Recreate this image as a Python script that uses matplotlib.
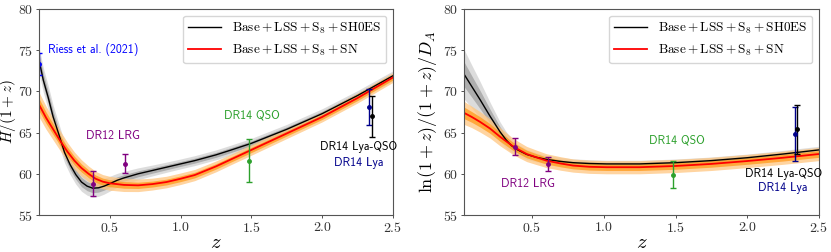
import matplotlib
matplotlib.use("Agg")
import matplotlib.pyplot as plt
import numpy as np

plt.rcParams['font.family'] = 'serif'
plt.rcParams['font.serif'] = ['cmr10']
plt.rcParams['mathtext.fontset'] = 'cm'
plt.rcParams['axes.formatter.use_mathtext'] = True
plt.rcParams['axes.unicode_minus'] = False

# ---- left panel: H/(1+z) ----
zL_sh = [0.0, 0.03, 0.066, 0.1, 0.14, 0.18, 0.22, 0.26, 0.3, 0.34, 0.38, 0.42, 0.46, 0.5, 0.55,
         0.6, 0.7, 0.8, 0.9, 1.0, 1.1, 1.25, 1.35, 1.5, 1.75, 2.0, 2.25, 2.5]
HL_sh = [73.8, 71.4, 69.2, 66.9, 64.8, 62.6, 61.1, 59.9, 59.0, 58.5, 58.25, 58.3, 58.5, 58.8, 59.2,
         59.5, 60.0, 60.4, 60.8, 61.2, 61.6, 62.3, 62.85, 63.7, 65.4, 67.3, 69.5, 71.9]
sL_sh = [0.8, 0.75, 0.72, 0.7, 0.65, 0.62, 0.6, 0.58, 0.56, 0.55, 0.55, 0.52, 0.48, 0.45, 0.42,
         0.4, 0.36, 0.33, 0.31, 0.3, 0.3, 0.3, 0.3, 0.3, 0.3, 0.3, 0.3, 0.3]

zL_sn = [0.0, 0.05, 0.1, 0.15, 0.2, 0.25, 0.3, 0.35, 0.4, 0.45, 0.5, 0.6, 0.7, 0.8, 0.9,
         1.0, 1.1, 1.25, 1.35, 1.5, 1.75, 2.0, 2.25, 2.5]
HL_sn = [68.4, 66.8, 65.4, 64.0, 62.7, 61.6, 60.7, 60.0, 59.4, 59.05, 58.85, 58.65, 58.6, 58.75, 59.0,
         59.4, 59.85, 60.9, 61.7, 62.9, 64.9, 66.9, 69.2, 71.7]
sL_sn = [0.75, 0.7, 0.65, 0.6, 0.56, 0.52, 0.5, 0.47, 0.45, 0.43, 0.42, 0.4, 0.38, 0.36, 0.35,
         0.35, 0.34, 0.33, 0.32, 0.32, 0.31, 0.3, 0.3, 0.3]

# ---- right panel: ln(1+z)/(1+z)/D_A ----
zR_sh = [0.026, 0.08, 0.138, 0.207, 0.277, 0.32, 0.358, 0.4, 0.463, 0.53, 0.6, 0.7, 0.786, 0.9,
         1.02, 1.25, 1.5, 1.75, 2.0, 2.25, 2.5]
DR_sh = [72.1, 70.6, 69.0, 67.0, 65.1, 64.1, 63.4, 62.9, 62.35, 62.0, 61.75, 61.5, 61.35, 61.25,
         61.2, 61.2, 61.35, 61.6, 61.95, 62.4, 62.9]
sR_sh = [1.5, 1.3, 1.1, 0.85, 0.6, 0.5, 0.4, 0.35, 0.3, 0.27, 0.25, 0.24, 0.23, 0.23,
         0.22, 0.22, 0.22, 0.22, 0.22, 0.22, 0.22]

zR_sn = [0.026, 0.08, 0.138, 0.207, 0.277, 0.358, 0.41, 0.463, 0.53, 0.6, 0.7, 0.786, 0.9,
         1.02, 1.25, 1.5, 1.75, 2.0, 2.25, 2.5]
DR_sn = [67.4, 66.9, 66.3, 65.5, 64.5, 63.45, 62.9, 62.4, 62.0, 61.6, 61.25, 61.0, 60.85,
         60.8, 60.8, 60.95, 61.2, 61.55, 61.95, 62.4]
sR_sn = [0.7, 0.65, 0.62, 0.58, 0.55, 0.5, 0.48, 0.46, 0.44, 0.42, 0.41, 0.4, 0.4,
         0.4, 0.4, 0.4, 0.4, 0.4, 0.4, 0.4]

# ---- data points ----
riess_z, riess_H, riess_e = 0.0, 73.3, 1.35
lrg_z = [0.38, 0.61]
lrg_H, lrg_He = [58.8, 61.2], [1.5, 1.15]
lrg_D, lrg_De = [63.3, 61.2], [1.0, 0.85]
qso_z = 1.48
qso_H, qso_He = 61.6, 2.6
qso_D, qso_De = 59.9, 1.6
lya_z = 2.33
lya_H, lya_He = 68.1, 2.15
lya_D, lya_De = 64.8, 3.3
lyaq_z = 2.35
lyaq_H, lyaq_He = 67.0, 2.5
lyaq_D, lyaq_De = 65.4, 3.0

lab_sh = r'$\mathrm{Base}+\mathrm{LSS}+\mathrm{S}_8+\mathrm{SH0ES}$'
lab_sn = r'$\mathrm{Base}+\mathrm{LSS}+\mathrm{S}_8+\mathrm{SN}$'

W, H = 831, 252
fig = plt.figure(figsize=(W / 100, H / 100), dpi=100)
axL = fig.add_axes([39 / W, 1 - 215 / H, 354 / W, 206 / H])
axR = fig.add_axes([464 / W, 1 - 215 / H, 355 / W, 206 / H])


def bands(ax, z, y, s, c1, c2, a=1.0):
    z, y, s = np.array(z), np.array(y), np.array(s)
    ax.fill_between(z, y - 2 * s, y + 2 * s, color=c2, alpha=a, lw=0)
    ax.fill_between(z, y - s, y + s, color=c1, alpha=a, lw=0)


ann = dict(family='cmss10', fontsize=8.5, ha='center', va='center')
eb = dict(fmt='o', ms=2.5, capsize=2.5, elinewidth=1.0, capthick=1.0)

# left
bands(axL, zL_sh, HL_sh, sL_sh, '#a9a9a9', '#d9d9d9', 0.9)
bands(axL, zL_sn, HL_sn, sL_sn, '#ff9a1a', '#ffc680', 0.75)
axL.plot(zL_sh, HL_sh, color='k', lw=1.0, label=lab_sh)
axL.plot(zL_sn, HL_sn, color='#ff0000', lw=1.3, label=lab_sn)
axL.errorbar(riess_z, riess_H, yerr=riess_e, color='blue', **eb)
axL.errorbar(lrg_z, lrg_H, yerr=lrg_He, color='purple', **eb)
axL.errorbar(qso_z, qso_H, yerr=qso_He, color='#2ca02c', **eb)
axL.errorbar(lya_z, lya_H, yerr=lya_He, color='darkblue', **eb)
axL.errorbar(lyaq_z, lyaq_H, yerr=lyaq_He, color='k', **eb)
axL.text(0.065, 75.1, 'Riess et al. (2021)', color='blue', **dict(ann, ha='left'))
axL.text(0.52, 64.6, 'DR12 LRG', color='purple', **ann)
axL.text(1.50, 67.1, 'DR14 QSO', color='#2ca02c', **ann)
axL.text(2.26, 63.2, 'DR14 Lya-QSO', color='k', **ann)
axL.text(2.26, 61.3, 'DR14 Lya', color='darkblue', **ann)
axL.set_xlim(0, 2.5)
axL.set_ylabel(r'$H/(1+z)$', fontsize=11)
axL.yaxis.set_label_coords(-0.058, 0.5)

# right
bands(axR, zR_sh, DR_sh, sR_sh, '#a9a9a9', '#d9d9d9', 0.9)
bands(axR, zR_sn, DR_sn, sR_sn, '#ff9a1a', '#ffc680', 0.75)
axR.plot(zR_sh, DR_sh, color='k', lw=1.0, label=lab_sh)
axR.plot(zR_sn, DR_sn, color='#ff0000', lw=1.3, label=lab_sn)
axR.errorbar(lrg_z, lrg_D, yerr=lrg_De, color='purple', **eb)
axR.errorbar(qso_z, qso_D, yerr=qso_De, color='#2ca02c', **eb)
axR.errorbar(lya_z, lya_D, yerr=lya_De, color='darkblue', **eb)
axR.errorbar(lyaq_z, lyaq_D, yerr=lyaq_De, color='k', **eb)
axR.text(0.47, 58.8, 'DR12 LRG', color='purple', **ann)
axR.text(1.51, 64.05, 'DR14 QSO', color='#2ca02c', **ann)
axR.text(2.25, 60.0, 'DR14 Lya-QSO', color='k', **ann)
axR.text(2.25, 58.25, 'DR14 Lya', color='darkblue', **ann)
axR.set_xlim(0.026, 2.5)
axR.set_ylabel(r'$\ln(1+z)/(1+z)/D_A$', fontsize=13, labelpad=3)

for ax in (axL, axR):
    ax.set_ylim(55, 80)
    ax.set_xticks([0.5, 1.0, 1.5, 2.0, 2.5])
    ax.set_yticks([55, 60, 65, 70, 75, 80])
    ax.tick_params(labelsize=10, length=2, width=0.6, colors='#333333', pad=2)
    for sp in ax.spines.values():
        sp.set_color('#555555')
        sp.set_linewidth(0.8)
    ax.set_xlabel(r'$z$', fontsize=15, labelpad=0)
    ax.legend(loc='upper right', fontsize=9.5, handlelength=2.5)

fig.savefig('out.png', dpi=100)
